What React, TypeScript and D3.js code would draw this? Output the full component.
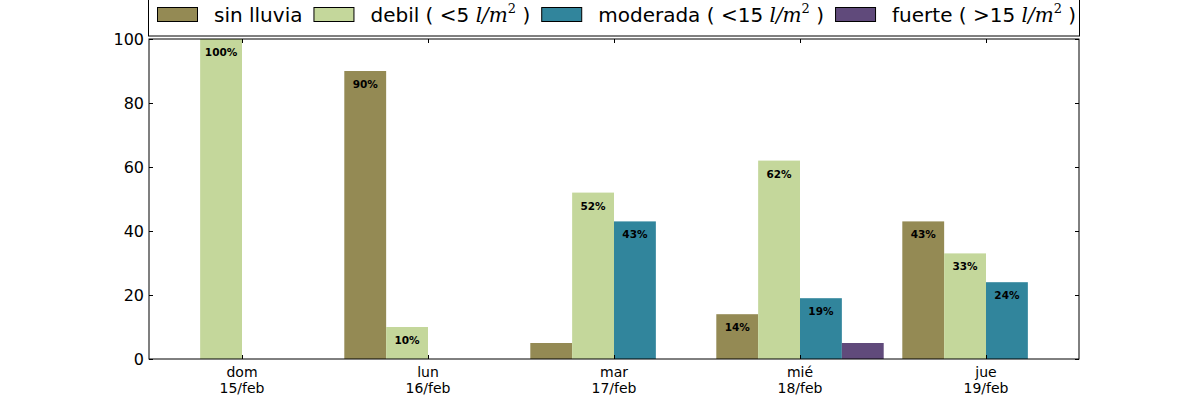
import React, { useEffect, useRef } from "react";
import * as d3 from "d3";

const days = ["dom", "lun", "mar", "mié", "jue"];
const dates = ["15/feb", "16/feb", "17/feb", "18/feb", "19/feb"];
const sinLluvia = [0, 90, 5, 14, 43];
const debil = [100, 10, 52, 62, 33];
const moderada = [0, 0, 43, 19, 24];
const fuerte = [0, 0, 0, 5, 0];
const seriesNames = ["sin lluvia", "debil", "moderada", "fuerte"];
const seriesMath = ["", "<5", "<15", ">15"];
const colors = ["#948A54", "#C4D79B", "#31859C", "#604A7B"];
const yTicks = [0, 20, 40, 60, 80, 100];

const W = 1200, H = 400;
const M = { left: 149, right: 1079, top: 39, bottom: 359 };

export default function App() {
  const ref = useRef<SVGSVGElement | null>(null);
  useEffect(() => {
    const svg = d3.select(ref.current);
    svg.selectAll("*").remove();
    const x = d3.scaleLinear().domain([-0.5, 4.5]).range([M.left, M.right]);
    const y = d3.scaleLinear().domain([0, 100]).range([M.bottom, M.top]);
    const series = [sinLluvia, debil, moderada, fuerte];
    const bw = 0.225;

    svg.append("rect").attr("width", W).attr("height", H).attr("fill", "#fff");

    const g = svg.append("g");
    series.forEach((vals, k) => {
      vals.forEach((v, i) => {
        if (v <= 0) return;
        const x0 = x(i - 0.45 + k * bw);
        const x1 = x(i - 0.45 + (k + 1) * bw);
        g.append("rect")
          .attr("x", x0)
          .attr("y", y(v))
          .attr("width", x1 - x0)
          .attr("height", y(0) - y(v))
          .attr("fill", colors[k]);
        if (v >= 10) {
          g.append("text")
            .attr("x", (x0 + x1) / 2)
            .attr("y", y(v) + 17)
            .attr("text-anchor", "middle")
            .attr("font-family", "DejaVu Sans")
            .attr("font-weight", "bold")
            .attr("font-size", 10.5)
            .attr("fill", "#000")
            .text(`${v}%`);
        }
      });
    });

    // axes frame
    svg.append("rect")
      .attr("x", M.left).attr("y", M.top)
      .attr("width", M.right - M.left).attr("height", M.bottom - M.top)
      .attr("fill", "none").attr("stroke", "#000").attr("stroke-width", 1);

    const tl = 4;
    yTicks.forEach((t) => {
      const yy = Math.round(y(t)) + 0.5;
      svg.append("line").attr("x1", M.left).attr("x2", M.left + tl).attr("y1", yy).attr("y2", yy).attr("stroke", "#000");
      svg.append("line").attr("x1", M.right - tl).attr("x2", M.right).attr("y1", yy).attr("y2", yy).attr("stroke", "#000");
      svg.append("text")
        .attr("x", M.left - 5).attr("y", y(t))
        .attr("dy", "0.36em")
        .attr("text-anchor", "end")
        .attr("font-family", "DejaVu Sans").attr("font-size", 16)
        .text(String(t));
    });

    days.forEach((d, i) => {
      const xx = Math.round(x(i)) + 0.5;
      svg.append("line").attr("x1", xx).attr("x2", xx).attr("y1", M.bottom).attr("y2", M.bottom - tl).attr("stroke", "#000");
      svg.append("line").attr("x1", xx).attr("x2", xx).attr("y1", M.top).attr("y2", M.top + tl).attr("stroke", "#000");
      const tx = svg.append("text")
        .attr("text-anchor", "middle")
        .attr("font-family", "DejaVu Sans").attr("font-size", 14);
      tx.append("tspan").attr("x", x(i)).attr("y", M.bottom + 18).text(d);
      tx.append("tspan").attr("x", x(i)).attr("y", M.bottom + 34).text(dates[i]);
    });

    // legend
    const lg = svg.append("g");
    lg.append("rect")
      .attr("x", M.left - 0.5).attr("y", -10)
      .attr("width", M.right - M.left + 1).attr("height", 46)
      .attr("fill", "#fff").attr("stroke", "#000").attr("stroke-width", 1);
    let cx = 157;
    const fs = 20;
    seriesNames.forEach((name, k) => {
      lg.append("rect")
        .attr("x", cx + 0.5).attr("y", 7.5).attr("width", 40).attr("height", 14)
        .attr("fill", colors[k]).attr("stroke", "#000").attr("stroke-width", 1);
      const t = lg.append("text")
        .attr("x", cx + 57).attr("y", 21.5)
        .attr("font-family", "DejaVu Sans").attr("font-size", fs).attr("fill", "#000");
      t.append("tspan").text(name);
      if (seriesMath[k]) {
        t.append("tspan").text(" ( ");
        t.append("tspan").attr("font-family", "DejaVu Serif").text(seriesMath[k].slice(0, 1));
        t.append("tspan").text(seriesMath[k].slice(1) + " ");
        t.append("tspan").attr("font-family", "DejaVu Serif").attr("font-style", "italic").text("l/m");
        t.append("tspan").attr("font-family", "DejaVu Serif").attr("font-size", 13).attr("dy", -9).text("2");
        t.append("tspan").attr("dy", 9).text(" )");
      }
      const w = (t.node() as SVGTextElement).getComputedTextLength();
      cx = cx + 57 + w + 11;
    });
  }, []);
  return (
    <svg ref={ref} width={W} height={H} style={{ position: "absolute", left: 0, top: 0 }} />
  );
}
